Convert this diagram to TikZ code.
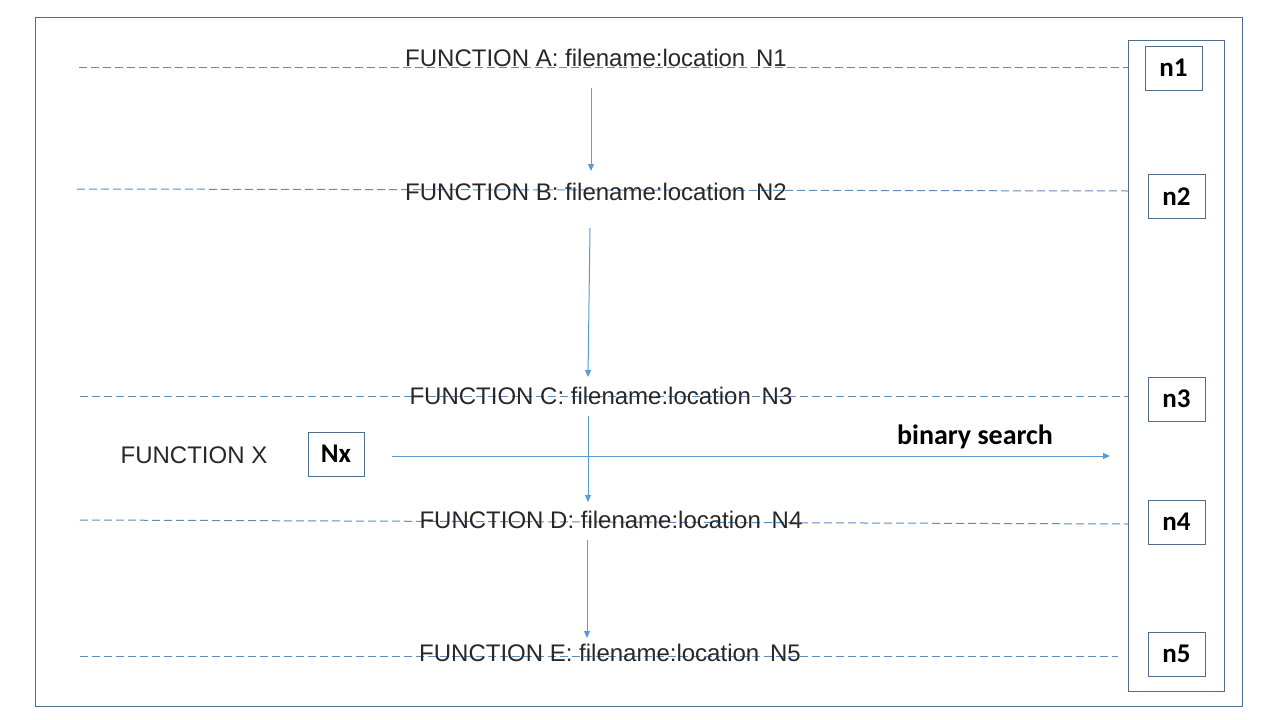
\documentclass[tikz,border=0pt]{standalone}
\usepackage{fontspec}
\setmainfont{Liberation Sans}
\newfontfamily\boldfont{Carlito}
\usetikzlibrary{arrows.meta}
\definecolor{framec}{RGB}{80,110,140}
\definecolor{arrowc}{RGB}{91,155,213}
\definecolor{dashc}{RGB}{95,140,185}
\definecolor{txtc}{RGB}{40,40,40}
\tikzset{
  ftext/.style={anchor=base, inner sep=0pt, font=\fontsize{24}{28}\selectfont, text=txtc},
  nbox/.style={draw=framec, line width=1pt, minimum width=57pt, minimum height=44pt, inner sep=0pt, font=\boldfont\bfseries\fontsize{27}{30}\selectfont},
  dline/.style={draw=dashc, line width=1pt, dash pattern=on 8pt off 4pt},
  arr/.style={draw=arrowc, line width=1pt, -{Triangle[width=6pt,length=7pt]}},
}
\begin{document}
\begin{tikzpicture}[x=1pt,y=-1pt]
\useasboundingbox (0,0) rectangle (1280,720);
\fill[white] (0,0) rectangle (1280,720);
% frames
\draw[framec, line width=1pt] (35,17) rectangle (1242,706);
\draw[framec, line width=1pt] (1128,40) rectangle (1224,691);
\coordinate (colA) at (1128,67);
\coordinate (colB) at (1128,191);
\coordinate (colC) at (1128,396);
\coordinate (colD) at (1128,524);
\coordinate (colE) at (1118,656);
\coordinate (lA) at (79,67);
\coordinate (lB) at (77,189);
\coordinate (lC) at (80,396);
\coordinate (lD) at (80,520);
\coordinate (lE) at (80,656);
% dashed lines
\draw[dline] (lA) -- (colA);
\draw[dline] (lB) -- (colB);
\draw[dline] (lC) -- (colC);
\draw[dline] (lD) -- (colD);
\draw[dline] (lE) -- (colE);
% function texts
\node[ftext] (fa) at (596,66) {FUNCTION A: filename:location\hspace{0.45em}N1};
\node[ftext] (fb) at (596,200) {FUNCTION B: filename:location\hspace{0.45em}N2};
\node[ftext] (fc) at (601,404) {FUNCTION C: filename:location\hspace{0.45em}N3};
\node[ftext] (fd) at (611,528) {FUNCTION D: filename:location\hspace{0.45em}N4};
\node[ftext] (fe) at (610,661) {FUNCTION E: filename:location\hspace{0.45em}N5};
\node[ftext] (fx) at (194,463) {FUNCTION X};
% n boxes
\node[nbox] (n1) at (1173.5,68) {n1};
\node[nbox] (n2) at (1176.5,196.5) {n2};
\node[nbox] (n3) at (1176.5,399) {n3};
\node[nbox] (n4) at (1176.5,522) {n4};
\node[nbox] (n5) at (1176.5,654) {n5};
\node[nbox, minimum width=56pt] (nx) at (336,454) {Nx};
% arrows
\coordinate (a1s) at (591,88);  \coordinate (a1e) at (591,171);
\coordinate (a2s) at (590,228); \coordinate (a2e) at (588,377);
\coordinate (a3s) at (588,416); \coordinate (a3e) at (588,502);
\coordinate (a4s) at (587,540); \coordinate (a4e) at (587,638);
\draw[arr] (a1s) -- (a1e);
\draw[arr] (a2s) -- (a2e);
\draw[arr] (a3s) -- (a3e);
\draw[arr] (a4s) -- (a4e);
\coordinate (bs) at (392,456);
\coordinate (be) at (1110,456);
\draw[arr] (bs) -- (be);
\node[anchor=base, inner sep=0pt, font=\boldfont\bfseries\fontsize{28}{32}\selectfont] (bl) at (975,444) {binary search};
\end{tikzpicture}
\end{document}
